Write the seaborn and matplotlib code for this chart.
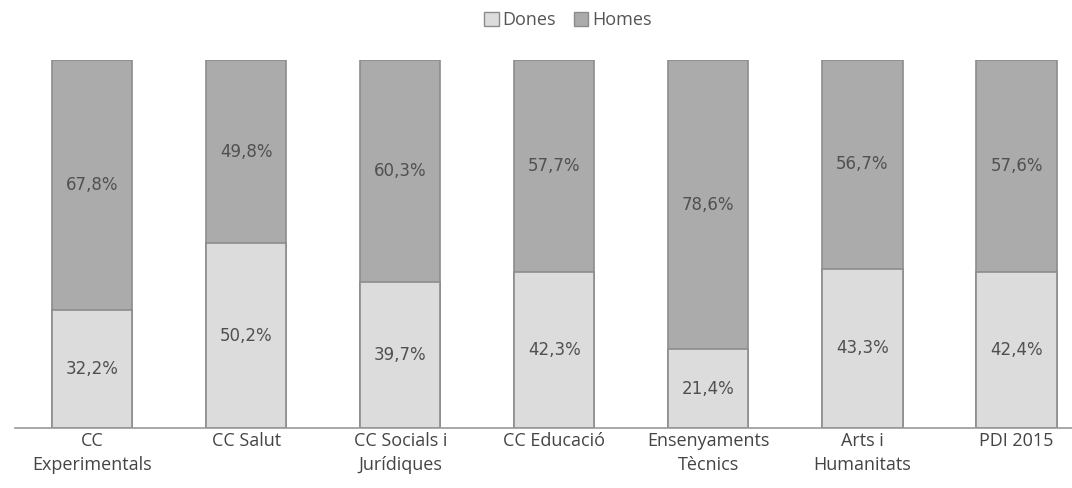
import matplotlib
matplotlib.use('Agg')
import matplotlib.pyplot as plt
import seaborn as sns
import pandas as pd
from matplotlib.patches import Patch

categories = ['CC\nExperimentals', 'CC Salut', 'CC Socials i\nJurídiques', 'CC Educació',
              'Ensenyaments\nTècnics', 'Arts i\nHumanitats', 'PDI 2015']
dones = [32.2, 50.2, 39.7, 42.3, 21.4, 43.3, 42.4]
homes = [67.8, 49.8, 60.3, 57.7, 78.6, 56.7, 57.6]

df = pd.DataFrame({'cat': categories, 'Dones': dones, 'Homes': homes})
df['total'] = df['Dones'] + df['Homes']

sns.set_style('white')
plt.rcParams['font.family'] = ['Open Sans', 'DejaVu Sans']

c_dones = '#dcdcdc'
c_homes = '#ababab'
c_edge = '#8c8c8c'
c_text = '#505050'

fig = plt.figure(figsize=(10.72, 4.88), dpi=100)
ax = fig.add_axes([15 / 1072, 1 - 428 / 488, 1 - 15 / 1072, (428 - 60) / 488])

sns.barplot(data=df, x='cat', y='total', color=c_homes, width=0.52,
            edgecolor=c_edge, linewidth=1.2, saturation=1, ax=ax)
sns.barplot(data=df, x='cat', y='Dones', color=c_dones, width=0.52,
            edgecolor=c_edge, linewidth=1.2, saturation=1, ax=ax)

for i, (d, h) in enumerate(zip(dones, homes)):
    ax.text(i, d / 2, f'{d:.1f}%'.replace('.', ','), ha='center', va='center',
            fontsize=12, color=c_text, family='DejaVu Sans')
    ax.text(i, d + h / 2, f'{h:.1f}%'.replace('.', ','), ha='center', va='center',
            fontsize=12, color=c_text, family='DejaVu Sans')

ax.set_xlim(-0.5, 6.36)
ax.set_ylim(0, 100)
ax.set_xlabel('')
ax.set_ylabel('')
ax.set_yticks([])
ax.tick_params(axis='x', length=0, pad=3, labelsize=13, labelcolor='#444444')
for lbl in ax.get_xticklabels():
    lbl.set_linespacing(1.4)
for s in ['top', 'right', 'left']:
    ax.spines[s].set_visible(False)
ax.spines['bottom'].set_color('#999999')
ax.spines['bottom'].set_linewidth(1.2)

handles = [Patch(facecolor=c_dones, edgecolor=c_edge, label='Dones'),
           Patch(facecolor=c_homes, edgecolor=c_edge, label='Homes')]
fig.legend(handles=handles, loc='center', bbox_to_anchor=(568 / 1072, 1 - 20 / 488),
           ncol=2, frameon=False, fontsize=13, handlelength=0.8, handleheight=0.8,
           handletextpad=0.2, columnspacing=1.0, labelcolor='#555555')

fig.savefig('out.png', dpi=100)
